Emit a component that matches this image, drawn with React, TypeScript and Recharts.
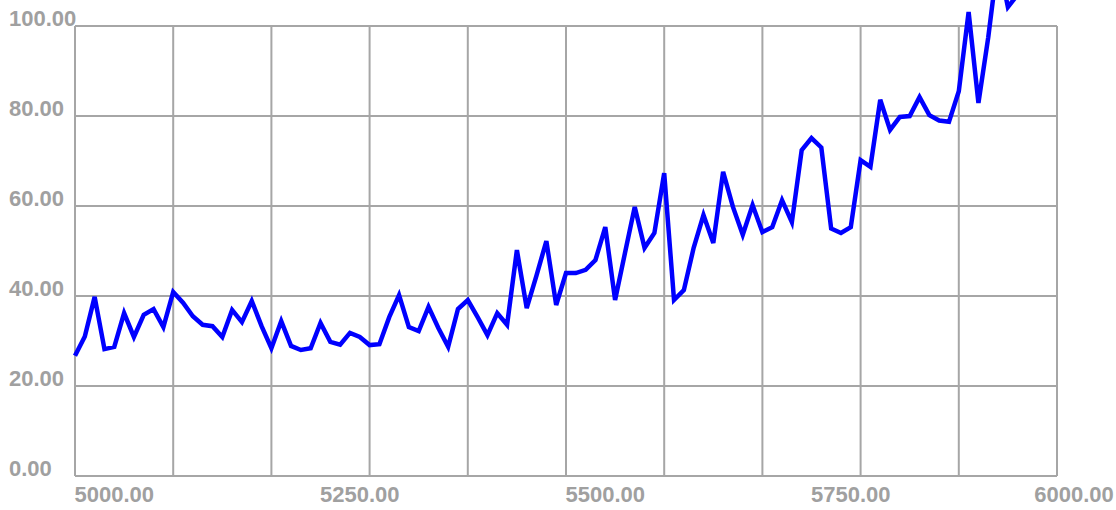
import React from "react";
import { LineChart, Line, XAxis, YAxis, CartesianGrid } from "recharts";

// x positions of the samples (one every 10 units)
const xValues = [
  4960, 4970, 4980, 4990, 5000, 5010, 5020, 5030, 5040, 5050,
  5060, 5070, 5080, 5090, 5100, 5110, 5120, 5130, 5140, 5150,
  5160, 5170, 5180, 5190, 5200, 5210, 5220, 5230, 5240, 5250,
  5260, 5270, 5280, 5290, 5300, 5310, 5320, 5330, 5340, 5350,
  5360, 5370, 5380, 5390, 5400, 5410, 5420, 5430, 5440, 5450,
  5460, 5470, 5480, 5490, 5500, 5510, 5520, 5530, 5540, 5550,
  5560, 5570, 5580, 5590, 5600, 5610, 5620, 5630, 5640, 5650,
  5660, 5670, 5680, 5690, 5700, 5710, 5720, 5730, 5740, 5750,
  5760, 5770, 5780, 5790, 5800, 5810, 5820, 5830, 5840, 5850,
  5860, 5870, 5880, 5890, 5900, 5910, 5920, 5930,
];

const yValues = [
  26.7, 31.0, 39.8, 28.2, 28.7, 36.2, 30.9, 35.8, 37.1, 33.1,
  40.9, 38.5, 35.5, 33.6, 33.3, 30.9, 36.9, 34.2, 38.9, 33.3,
  28.4, 34.4, 28.9, 28.0, 28.4, 34.0, 29.8, 29.2, 31.8, 30.9,
  29.1, 29.3, 35.3, 40.2, 33.1, 32.2, 37.6, 32.9, 28.7, 37.1,
  39.1, 35.3, 31.3, 36.2, 33.6, 50.2, 37.3, 44.6, 52.2, 38.0,
  45.1, 45.1, 45.8, 48.0, 55.3, 39.1, 49.5, 59.8, 50.7, 54.0,
  67.3, 39.1, 41.3, 50.7, 58.0, 51.8, 67.6, 59.8, 53.6, 60.2,
  54.2, 55.3, 61.3, 56.4, 72.4, 75.1, 73.0, 55.0, 54.0, 55.3,
  70.2, 68.7, 83.6, 76.9, 79.8, 80.0, 84.2, 80.2, 79.0, 78.7,
  85.5, 103.1, 82.9, 97.5, 115.0, 104.2, 107.0, 110.0,
];

const xTicks = [5000, 5250, 5500, 5750, 6000];
const yTicks = [0, 20, 40, 60, 80, 100];

const data = xValues.map((x, i) => ({ x, y: yValues[i] }));

const WIDTH = 1116;
const HEIGHT = 510;

const labelStyle = {
  fontFamily: '"Liberation Sans", Arial, sans-serif',
  fontWeight: 700,
  fontSize: 22,
  fill: "#a0a0a0",
};

function YTick({ y, payload }: any) {
  return (
    <text x={9} y={y} textAnchor="start" style={labelStyle}>
      {payload.value.toFixed(2)}
    </text>
  );
}

function XTick({ x, y, payload }: any) {
  // keep the last label inside the picture
  const cx = Math.min(x, WIDTH - 42);
  return (
    <text x={cx} y={y + 18} textAnchor="middle" style={labelStyle}>
      {payload.value.toFixed(2)}
    </text>
  );
}

export default function App() {
  return (
    <div style={{ position: "absolute", left: 0, top: 0, width: WIDTH, height: HEIGHT, background: "#fff" }}>
      <style>{`
        .recharts-wrapper, .recharts-surface { overflow: visible !important; }
        .recharts-surface [clip-path] { clip-path: none !important; }
      `}</style>
      <LineChart
        width={WIDTH}
        height={HEIGHT}
        data={data}
        margin={{ top: 26, right: 59, left: 0, bottom: 0 }}
      >
        <CartesianGrid
          stroke="#a6a6a6"
          strokeWidth={2}
          verticalCoordinatesGenerator={({ offset }: any) =>
            Array.from({ length: 11 }, (_, i) => offset.left + (offset.width * i) / 10)
          }
        />
        <XAxis
          dataKey="x"
          type="number"
          domain={[4960, 5960]}
          ticks={xTicks}
          interval={0}
          allowDataOverflow
          height={34}
          axisLine={false}
          tickLine={false}
          tick={<XTick />}
        />
        <YAxis
          type="number"
          domain={[0, 100]}
          ticks={yTicks}
          interval={0}
          allowDataOverflow
          width={75}
          axisLine={false}
          tickLine={false}
          tick={<YTick />}
        />
        <Line
          type="linear"
          dataKey="y"
          stroke="#0000ff"
          strokeWidth={4.5}
          dot={false}
          activeDot={false}
          isAnimationActive={false}
        />
      </LineChart>
    </div>
  );
}
